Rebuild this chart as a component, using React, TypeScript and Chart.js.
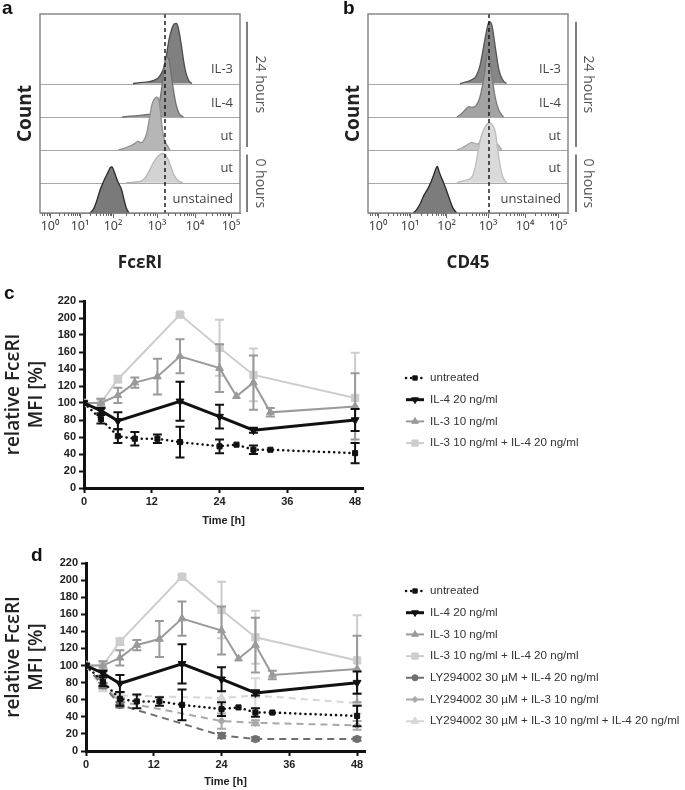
import React, { useEffect, useRef } from 'react';
import { Chart, registerables } from 'chart.js';
import { drawPoint } from 'chart.js/helpers';
Chart.register(...registerables);
Chart.defaults.font.family = "'Liberation Sans', Arial, sans-serif";

// ---------------- Panels a / b : flow cytometry histograms ----------------
const decadeLabels = ['10⁰', '10¹', '10²', '10³', '10⁴', '10⁵'];
const decadeChA = [50, 200, 365, 585, 775, 955];
const decadeChB = [50, 210, 393, 600, 785, 950];
const rowNames = ['unstained', 'ut', 'ut', 'IL-4', 'IL-3'];
const rowBaselines = [0, 0.93, 1.94, 2.95, 3.98];
const gateChA = 625;
const gateChB = 605;
const span24h = [5.88, 2.03];
const span0h = [1.8, 0.03];

const aUnstCh = [250, 270, 285, 300, 320, 340, 352, 360, 372, 390, 408, 420, 432, 445];
const aUnstCt = [0, 0.15, 0.4, 0.7, 1.0, 1.25, 1.4, 1.42, 1.25, 0.95, 0.72, 0.42, 0.15, 0];
const aUt0Ch = [430, 470, 505, 525, 545, 565, 585, 600, 612, 625, 640, 655, 670, 690, 713];
const aUt0Ct = [0, 0.02, 0.05, 0.15, 0.35, 0.6, 0.78, 0.87, 0.9, 0.88, 0.72, 0.48, 0.24, 0.07, 0];
const aUt24Ch = [392, 420, 450, 475, 490, 505, 520, 535, 548, 560, 572, 583, 595, 605, 615, 625, 635, 650];
const aUt24Ct = [0, 0.05, 0.12, 0.2, 0.26, 0.22, 0.3, 0.55, 1.0, 1.4, 1.57, 1.62, 1.52, 1.0, 0.5, 0.25, 0.15, 0];
const aIL4Ch = [410, 450, 500, 540, 560, 585, 600, 612, 622, 633, 645, 655, 668, 680, 695, 717];
const aIL4Ct = [0, 0.03, 0.05, 0.08, 0.1, 0.22, 0.55, 1.05, 1.6, 1.85, 1.75, 1.35, 0.8, 0.4, 0.12, 0];
const aIL3Ch = [465, 500, 540, 570, 595, 615, 630, 645, 660, 672, 682, 692, 705, 718, 730, 745, 760];
const aIL3Ct = [0, 0.03, 0.05, 0.1, 0.2, 0.42, 0.8, 1.35, 1.7, 1.84, 1.85, 1.7, 1.25, 0.7, 0.32, 0.08, 0];

const bUnstCh = [227, 245, 262, 280, 297, 315, 330, 342, 347, 355, 372, 390, 408, 425, 443];
const bUnstCt = [0, 0.12, 0.3, 0.55, 0.72, 0.95, 1.2, 1.4, 1.43, 1.28, 1.02, 0.74, 0.42, 0.15, 0];
const bUt0Ch = [445, 470, 500, 520, 535, 550, 565, 580, 597, 610, 625, 637, 648, 660, 675, 693];
const bUt0Ct = [0, 0.05, 0.1, 0.18, 0.45, 0.95, 1.4, 1.65, 1.8, 1.84, 1.75, 1.55, 1.05, 0.55, 0.17, 0];
const bUt24Ch = [445, 470, 495, 518, 535, 548, 562, 578, 592, 605, 618, 630, 643, 655, 668];
const bUt24Ct = [0, 0.06, 0.15, 0.23, 0.2, 0.18, 0.3, 0.58, 0.77, 0.82, 0.72, 0.38, 0.2, 0.12, 0];
const bIL4Ch = [445, 470, 490, 505, 520, 540, 558, 572, 582, 592, 600, 610, 623, 638, 655, 677];
const bIL4Ct = [0, 0.12, 0.25, 0.32, 0.3, 0.35, 0.58, 0.95, 1.3, 1.78, 1.95, 1.7, 1.1, 0.55, 0.2, 0];
const bIL3Ch = [460, 490, 520, 540, 560, 577, 592, 603, 610, 620, 637, 652, 665, 680, 693];
const bIL3Ct = [0, 0.05, 0.12, 0.22, 0.55, 1.1, 1.6, 1.87, 1.9, 1.78, 1.1, 0.5, 0.22, 0.06, 0];

const histFillsA = ['#7a7a7a', '#d3d3d3', '#b6b6b6', '#9b9b9b', '#808080'];
const histLinesA = ['#2a2a2a', '#b5b5b5', '#909090', '#707070', '#4c4c4c'];
const histFillsB = ['#7c7c7c', '#dadada', '#c6c6c6', '#a3a3a3', '#878787'];
const histLinesB = ['#2a2a2a', '#bdbdbd', '#a5a5a5', '#7a7a7a', '#555555'];

// ---------------- Panels c / d : time course ----------------
const tUntreated = [0, 3, 6, 9, 13, 17, 24, 27, 30, 33, 48];
const vUntreated = [100, 81, 61, 58, 58, 54, 49, 51, 45, 45, 41];
const eUntreated = [0, 5, 8, 8, 5, 18, 8, 0, 5, 0, 12];
const tIL4 = [0, 3, 6, 17, 24, 30, 48];
const vIL4 = [100, 91, 79, 102, 84, 68, 80];
const eIL4 = [0, 3, 10, 23, 14, 3, 13];
const tIL3 = [0, 3, 6, 9, 13, 17, 24, 27, 30, 33, 48];
const vIL3 = [100, 100, 109, 124, 131, 155, 141, 108, 124, 89, 96];
const eIL3 = [0, 5, 9, 6, 21, 20, 28, 0, 32, 5, 39];
const tCombo = [0, 3, 6, 17, 24, 30, 48];
const vCombo = [100, 100, 128, 204, 165, 133, 106];
const eCombo = [0, 5, 4, 2, 33, 31, 53];
const tLY = [0, 3, 6, 24, 30, 48];
const vLYIL4 = [100, 77, 54, 18, 14, 14];
const eLYIL4 = [0, 3, 3, 3, 2, 2];
const vLYIL3 = [100, 76, 58, 35, 33, 30];
const eLYIL3 = [0, 3, 4, 9, 3, 5];
const vLYCombo = [100, 73, 65, 62, 65, 56];
const eLYCombo = [0, 3, 3, 8, 20, 12];

const seriesNames = [
  'untreated',
  'IL-4 20 ng/ml',
  'IL-3 10 ng/ml',
  'IL-3 10 ng/ml + IL-4 20 ng/ml',
  'LY294002 30 µM + IL-4 20 ng/ml',
  'LY294002 30 µM + IL-3 10 ng/ml',
  'LY294002 30 µM + IL-3 10 ng/ml + IL-4 20 ng/ml',
];

function histDatasets(curves: number[][][], fills: string[], lines: string[]) {
  return curves.map(([ch, ct], r) => ({
    label: rowNames[r],
    data: ch.map((c, i) => ({ x: c, y: rowBaselines[r] + ct[i] })),
    fill: { value: rowBaselines[r] },
    backgroundColor: fills[r],
    borderColor: lines[r],
    borderWidth: 1.3,
    pointRadius: 0,
    cubicInterpolationMode: 'monotone',
  }));
}

function histDecor(gateCh: number, decades: number[], bracketDx: number, textDx: number) {
  return {
    id: 'histDecor',
    beforeDatasetsDraw(chart: any) {
      const { ctx, chartArea: ca, scales: { y } } = chart;
      ctx.save();
      ctx.strokeStyle = '#a8a8a8';
      ctx.lineWidth = 1;
      rowBaselines.forEach((b) => {
        const py = Math.round(y.getPixelForValue(b)) + 0.5;
        ctx.beginPath();
        ctx.moveTo(ca.left, py);
        ctx.lineTo(ca.right, py);
        ctx.stroke();
      });
      ctx.restore();
    },
    afterDatasetsDraw(chart: any) {
      const { ctx, chartArea: ca, scales: { x, y } } = chart;
      ctx.save();
      const gx = x.getPixelForValue(gateCh);
      ctx.strokeStyle = '#111';
      ctx.lineWidth = 1.4;
      ctx.setLineDash([4, 3]);
      ctx.beginPath();
      ctx.moveTo(gx, ca.top);
      ctx.lineTo(gx, ca.bottom);
      ctx.stroke();
      ctx.setLineDash([]);
      ctx.strokeStyle = '#777';
      ctx.lineWidth = 1.3;
      ctx.strokeRect(ca.left, ca.top, ca.right - ca.left, ca.bottom - ca.top);
      ctx.strokeStyle = '#666';
      ctx.lineWidth = 1;
      for (let k = 0; k < decades.length - 1; k++) {
        for (let m = 2; m <= 9; m++) {
          const v = decades[k] + Math.log10(m) * (decades[k + 1] - decades[k]);
          const px = Math.round(x.getPixelForValue(v)) + 0.5;
          ctx.beginPath();
          ctx.moveTo(px, ca.bottom);
          ctx.lineTo(px, ca.bottom + 3);
          ctx.stroke();
        }
      }
      for (let v = 10; v < decades[0]; v += 12) {
        const px = Math.round(x.getPixelForValue(v)) + 0.5;
        ctx.beginPath();
        ctx.moveTo(px, ca.bottom);
        ctx.lineTo(px, ca.bottom + 3);
        ctx.stroke();
      }
      ctx.fillStyle = '#444';
      ctx.font = "13px 'Open Sans'";
      ctx.textAlign = 'right';
      ctx.textBaseline = 'middle';
      rowBaselines.forEach((b, r) => {
        ctx.fillText(rowNames[r], ca.right - 7, y.getPixelForValue(b) - 14);
      });
      ctx.strokeStyle = '#555';
      ctx.lineWidth = 1.5;
      const bx = ca.right + bracketDx;
      [[span24h, '24 hours'], [span0h, '0 hours']].forEach(([sp, txt]: any) => {
        const y1 = y.getPixelForValue(sp[0]);
        const y2 = y.getPixelForValue(sp[1]);
        ctx.beginPath();
        ctx.moveTo(bx, y1);
        ctx.lineTo(bx, y2);
        ctx.stroke();
        ctx.save();
        ctx.translate(ca.right + textDx, (y1 + y2) / 2);
        ctx.rotate(Math.PI / 2);
        ctx.fillStyle = '#555';
        ctx.font = "14px 'Open Sans'";
        ctx.textAlign = 'center';
        ctx.textBaseline = 'middle';
        ctx.fillText(txt, 0, 0);
        ctx.restore();
      });
      ctx.restore();
    },
  };
}

function histConfig(curves: number[][][], fills: string[], lines: string[], decades: number[], gate: number,
  title: string, yWidth: number, countPad: number, padRight: number, xHeight: number, bracketDx: number, textDx: number) {
  return {
    type: 'line',
    data: { datasets: histDatasets(curves, fills, lines) },
    options: {
      responsive: false,
      animation: false,
      layout: { padding: { left: 0, top: 14, right: padRight, bottom: 0 } },
      plugins: { legend: { display: false }, tooltip: { enabled: false } },
      scales: {
        x: {
          type: 'linear', min: 0, max: 1000,
          afterBuildTicks: (s: any) => { s.ticks = decades.map((v) => ({ value: v })); },
          afterFit: (s: any) => { s.height = xHeight; },
          ticks: {
            autoSkip: false, maxRotation: 0, padding: 1,
            callback: (_v: any, i: number) => decadeLabels[i],
            font: { size: 12.5, family: "'Noto Sans', 'DejaVu Sans'" }, color: '#444',
          },
          grid: { drawOnChartArea: false, tickLength: 5, color: '#666' },
          border: { color: '#777' },
          title: { display: true, text: title, font: { size: 17, weight: 'bold', family: "'Open Sans'" }, color: '#222', padding: { top: 0, bottom: 2 } },
        },
        y: {
          min: 0, max: 6.12,
          afterFit: (s: any) => { s.width = yWidth; },
          ticks: { display: false },
          grid: { display: false },
          border: { display: false },
          title: { display: true, text: 'Count', font: { size: 19, weight: 'bold', family: "'Open Sans'" }, color: '#222', padding: { top: countPad, bottom: 0 } },
        },
      },
    },
    plugins: [histDecor(gate, decades, bracketDx, textDx)],
  };
}

function mk(label: string, t: number[], v: number[], e: number[], color: string, width: number, dash: number[], style: string, radius: number, rot = 0) {
  return {
    label,
    data: t.map((x, i) => ({ x, y: v[i] })),
    errors: e,
    borderColor: color,
    backgroundColor: color,
    pointBackgroundColor: color,
    pointBorderColor: color,
    pointBorderWidth: 1,
    pointStyle: style,
    pointRadius: radius,
    pointRotation: rot,
    borderWidth: width,
    borderDash: dash,
    borderCapStyle: dash.length && dash[0] < 1 ? 'round' : 'butt',
    fill: false,
    tension: 0,
  };
}

function lineDatasets(withLY: boolean) {
  const ds = [
    mk(seriesNames[0], tUntreated, vUntreated, eUntreated, '#111', 2.5, [0.1, 5], 'rect', 3.6),
    mk(seriesNames[1], tIL4, vIL4, eIL4, '#111', 3, [], 'triangle', 4.5, 180),
    mk(seriesNames[2], tIL3, vIL3, eIL3, '#9a9a9a', 2, [], 'triangle', 4.5),
    mk(seriesNames[3], tCombo, vCombo, eCombo, '#cdcdcd', 2, [], 'rect', 5.2),
  ];
  if (withLY) {
    ds.push(
      mk(seriesNames[4], tLY, vLYIL4, eLYIL4, '#6f6f6f', 2, [7, 5], 'circle', 3.6),
      mk(seriesNames[5], tLY, vLYIL3, eLYIL3, '#a9a9a9', 2, [7, 5], 'rectRot', 3.6),
      mk(seriesNames[6], tLY, vLYCombo, eLYCombo, '#d6d6d6', 2, [7, 5], 'triangle', 5),
    );
  }
  return ds;
}

const errorBarPlugin = {
  id: 'errorBars',
  beforeDatasetDraw(chart: any, args: any) {
    const ds = chart.data.datasets[args.index];
    if (!ds.errors) return;
    const { ctx, scales: { x, y } } = chart;
    ctx.save();
    ctx.strokeStyle = ds.borderColor;
    ctx.lineWidth = 2;
    ctx.setLineDash([]);
    ds.data.forEach((p: any, i: number) => {
      const e = ds.errors[i];
      if (!e) return;
      const px = x.getPixelForValue(p.x);
      const top = y.getPixelForValue(p.y + e);
      const bot = y.getPixelForValue(p.y - e);
      ctx.beginPath();
      ctx.moveTo(px, top); ctx.lineTo(px, bot);
      ctx.moveTo(px - 4.5, top); ctx.lineTo(px + 4.5, top);
      ctx.moveTo(px - 4.5, bot); ctx.lineTo(px + 4.5, bot);
      ctx.stroke();
    });
    ctx.restore();
  },
};

function legendPlugin(dx: number, dy: number, step: number) {
  return {
    id: 'sideLegend',
    afterDraw(chart: any) {
      const { ctx, chartArea: ca } = chart;
      ctx.save();
      chart.data.datasets.forEach((ds: any, i: number) => {
        const x0 = ca.right + dx;
        const yy = ca.top + dy + i * step;
        ctx.strokeStyle = ds.borderColor;
        ctx.lineWidth = ds.borderWidth;
        ctx.lineCap = ds.borderCapStyle;
        ctx.setLineDash(ds.borderDash);
        ctx.beginPath();
        ctx.moveTo(x0, yy);
        ctx.lineTo(x0 + 18, yy);
        ctx.stroke();
        ctx.setLineDash([]);
        ctx.lineCap = 'butt';
        ctx.fillStyle = ds.pointBackgroundColor;
        ctx.strokeStyle = ds.pointBorderColor;
        ctx.lineWidth = 1;
        drawPoint(ctx, { pointStyle: ds.pointStyle, rotation: ds.pointRotation, radius: ds.pointRadius * 0.85, borderWidth: 1 }, x0 + 9, yy);
        ctx.fillStyle = '#333';
        ctx.font = "11.6px 'Liberation Sans', Arial";
        ctx.textAlign = 'left';
        ctx.textBaseline = 'middle';
        ctx.fillText(ds.label, x0 + 24, yy);
      });
      ctx.restore();
    },
  };
}

function lineConfig(withLY: boolean, padTop: number, padRight: number, yWidth: number, xHeight: number, titleBottom: number, legDx: number, legDy: number) {
  const axisFont = { size: 11, weight: 'bold' };
  return {
    type: 'line',
    data: { datasets: lineDatasets(withLY) },
    options: {
      responsive: false,
      animation: false,
      layout: { padding: { left: 0, top: padTop, right: padRight, bottom: 0 } },
      plugins: { legend: { display: false }, tooltip: { enabled: false } },
      scales: {
        x: {
          type: 'linear', min: 0, max: 49.4,
          afterFit: (s: any) => { s.height = xHeight; },
          ticks: { stepSize: 12, includeBounds: false, font: axisFont, color: '#222', padding: 2, maxRotation: 0 },
          grid: { drawOnChartArea: false, tickLength: 5, tickWidth: 2, tickColor: '#111' },
          border: { color: '#111', width: 3 },
          title: { display: true, text: 'Time [h]', font: axisFont, color: '#222', padding: { top: 0, bottom: titleBottom } },
        },
        y: {
          min: 0, max: 220,
          afterFit: (s: any) => { s.width = yWidth; },
          ticks: { stepSize: 20, font: axisFont, color: '#222', padding: 3 },
          grid: { drawOnChartArea: false, tickLength: 5, tickWidth: 2, tickColor: '#111' },
          border: { color: '#111', width: 3 },
          title: { display: true, text: ['relative FcεRI', 'MFI [%]'], font: { size: 19, weight: '600', family: "'Open Sans'" }, color: '#222', padding: { top: 2, bottom: 0 } },
        },
      },
    },
    plugins: [errorBarPlugin, legendPlugin(legDx, legDy, 21.7)],
  };
}

const letterStyle = (left: number, top: number): React.CSSProperties => ({
  position: 'absolute', left, top, fontFamily: "'Liberation Sans', Arial, sans-serif", fontWeight: 'bold', fontSize: 19, lineHeight: '20px', color: '#111',
});

export default function App() {
  const refA = useRef<HTMLCanvasElement>(null);
  const refB = useRef<HTMLCanvasElement>(null);
  const refC = useRef<HTMLCanvasElement>(null);
  const refD = useRef<HTMLCanvasElement>(null);

  useEffect(() => {
    const curvesA = [[aUnstCh, aUnstCt], [aUt0Ch, aUt0Ct], [aUt24Ch, aUt24Ct], [aIL4Ch, aIL4Ct], [aIL3Ch, aIL3Ct]];
    const curvesB = [[bUnstCh, bUnstCt], [bUt0Ch, bUt0Ct], [bUt24Ch, bUt24Ct], [bIL4Ch, bIL4Ct], [bIL3Ch, bIL3Ct]];
    const charts = [
      new Chart(refA.current!, histConfig(curvesA, histFillsA, histLinesA, decadeChA, gateChA, 'FcεRI', 40, 14, 100, 62, 7, 20) as any),
      new Chart(refB.current!, histConfig(curvesB, histFillsB, histLinesB, decadeChB, gateChB, 'CD45', 28, 2, 117, 62, 8, 20) as any),
      new Chart(refC.current!, lineConfig(false, 16, 322, 84, 47, 7, 43, 77) as any),
      new Chart(refD.current!, lineConfig(true, 18, 320, 86, 39, 1, 41, 28) as any),
    ];
    return () => charts.forEach((c) => c.destroy());
  }, []);

  return (
    <div style={{ position: 'absolute', left: 0, top: 0, width: 685, height: 790, background: '#fff', overflow: 'hidden' }}>
      <canvas ref={refA} width={340} height={275} style={{ position: 'absolute', left: 0, top: 0 }} />
      <canvas ref={refB} width={345} height={275} style={{ position: 'absolute', left: 340, top: 0 }} />
      <canvas ref={refC} width={685} height={250} style={{ position: 'absolute', left: 0, top: 285 }} />
      <canvas ref={refD} width={685} height={245} style={{ position: 'absolute', left: 0, top: 545 }} />
      <div style={letterStyle(2, -2)}>a</div>
      <div style={letterStyle(343, -2)}>b</div>
      <div style={letterStyle(4, 283)}>c</div>
      <div style={letterStyle(31, 545)}>d</div>
    </div>
  );
}
